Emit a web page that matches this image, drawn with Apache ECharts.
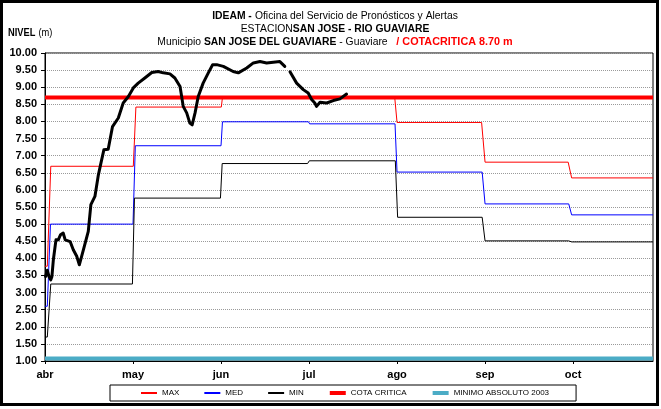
<!DOCTYPE html>
<html>
<head>
<meta charset="utf-8">
<script src="https://cdn.jsdelivr.net/npm/echarts@6/dist/echarts.min.js"></script>
<style>
  html, body { margin: 0; padding: 0; background: #fff; }
  #chart { width: 661px; height: 409px; }
</style>
</head>
<body>
<div id="chart"></div>
<script>
// x values are days counted from 1 April; each month tick sits 30.5 days apart
const monthLabels = ['abr', 'may', 'jun', 'jul', 'ago', 'sep', 'oct'];
const daysPerMonth = 30.5;
const lastDay = 210.7;

// observed daily level (m); null marks missing readings
const obsDays = [0.2, 0.8, 1.4, 2.0, 2.4, 2.9, 3.8, 4.6, 5.4, 6.3, 7.0, 8.7, 9.8, 11.0, 11.9, 13.3, 15.0, 15.9, 17.3,
  18.5, 19.4, 20.4, 21.9, 23.4, 25.4, 27.1, 28.9, 30.6, 32.3, 34.6, 37.0, 39.2, 41.0, 43.3, 45.0, 46.8, 47.9,
  49.1, 50.2, 51.0, 52.0, 53.1, 54.8, 56.6, 58.1, 59.5, 61.8, 65.2, 67.0, 69.9, 72.2, 74.5, 76.8, 79.1, 81.4,
  83.1, 84.0, 84.9, 87.2, 89.5, 91.2, 92.4, 93.5, 94.1, 95.3, 97.6, 99.9, 102.2, 104.5];
const obsLevels = [3.47, 3.65, 3.47, 3.37, 3.47, 3.96, 4.54, 4.54, 4.69, 4.74, 4.54, 4.49, 4.25, 4.06, 3.81, 4.25, 4.79, 5.57, 5.81,
  6.44, 6.79, 7.17, 7.19, 7.85, 8.10, 8.54, 8.73, 8.98, 9.12, 9.27, 9.43, 9.46, 9.42, 9.39, 9.27, 9.02, 8.44,
  8.25, 7.95, 7.90, 8.25, 8.73, 9.12, 9.42, 9.66, 9.66, 9.61, 9.46, 9.42, 9.56, 9.71, 9.75, 9.71, 9.73, 9.75,
  9.61, null, 9.45, 9.12, 8.93, 8.83, 8.64, 8.54, 8.44, 8.56, 8.54, 8.61, 8.66, 8.80];

// historical monthly maximum
const maxDays = [0, 0.8, 2.0, 30.6, 31.5, 61.1, 61.5, 121.2, 122.0, 151.3, 152.5, 181.3, 182.5, 210.7];
const maxLevels = [3.77, 3.77, 6.69, 6.69, 8.42, 8.42, 8.70, 8.70, 7.97, 7.97, 6.81, 6.81, 6.35, 6.35];

// historical monthly mean
const medDays = [0, 0.8, 1.9, 30.5, 31.3, 61.0, 61.5, 91.3, 91.7, 121.3, 122.0, 151.5, 152.5, 181.5, 182.5, 210.7];
const medLevels = [2.60, 2.60, 5.00, 5.00, 7.29, 7.29, 7.99, 7.99, 7.93, 7.93, 6.52, 6.52, 5.59, 5.59, 5.27, 5.27];

// historical monthly minimum
const minDays = [0, 0.8, 2.0, 30.3, 31.0, 60.8, 61.4, 91.0, 91.6, 121.4, 122.2, 151.5, 152.5, 181.5, 182.5, 210.7];
const minLevels = [1.70, 1.70, 3.25, 3.25, 5.76, 5.76, 6.77, 6.77, 6.85, 6.85, 5.20, 5.20, 4.51, 4.51, 4.48, 4.48];

const cotaCritica = 8.70;
const minimoAbsoluto = 1.07;

const sans = '"Liberation Sans", Arial, sans-serif';

function pairs(xs, ys) {
  return xs.map((x, i) => [x, ys[i] === null ? '-' : ys[i]]);
}

// condensed header text: a horizontally squeezed text element
function headerLine(y, text, rich) {
  return {
    type: 'text', x: 335, y: y, scaleX: 0.94, scaleY: 1,
    style: { text: text, align: 'center', verticalAlign: 'middle', rich: rich }
  };
}

const headerRich = {
  b: { font: 'bold 11px ' + sans, fill: '#000' },
  n: { font: '11px ' + sans, fill: '#000' },
  r: { font: 'bold 11.5px ' + sans, fill: '#ff0000' }
};

const chart = echarts.init(document.getElementById('chart'), null, { renderer: 'canvas' });

chart.setOption({
  animation: false,
  backgroundColor: '#fff',
  grid: {
    left: 45, right: 8, top: 53, bottom: 48,
    show: true, borderColor: '#000', borderWidth: 1, backgroundColor: 'transparent'
  },
  xAxis: {
    type: 'value',
    min: 0, max: lastDay, interval: daysPerMonth,
    axisLine: { show: true, lineStyle: { color: '#000', width: 1 } },
    axisTick: { show: true, length: 3, lineStyle: { color: '#000' } },
    splitLine: { show: false },
    axisLabel: {
      showMaxLabel: false,
      color: '#000', fontFamily: sans, fontWeight: 'bold', fontSize: 11, margin: 8,
      formatter: v => {
        const i = Math.round(v / daysPerMonth);
        return Math.abs(v - i * daysPerMonth) < 0.01 && i < monthLabels.length ? monthLabels[i] : '';
      }
    }
  },
  yAxis: {
    type: 'value',
    min: 1, max: 10, interval: 0.5,
    axisLine: { show: true, lineStyle: { color: '#000', width: 1 } },
    axisTick: { show: true, length: 4, lineStyle: { color: '#000' } },
    splitLine: { show: true, lineStyle: { color: '#9a9a9a', type: [1, 1], width: 1 } },
    axisLabel: {
      color: '#000', fontFamily: sans, fontWeight: 'bold', fontSize: 11, margin: 8,
      formatter: v => v.toFixed(2)
    }
  },
  legend: {
    left: 110, top: 385,
    padding: [4, 27, 4, 30],
    borderColor: '#000', borderWidth: 1,
    itemWidth: 16, itemHeight: 9, itemGap: 24,
    itemStyle: { opacity: 0 },
    textStyle: { fontFamily: sans, fontSize: 8, color: '#000' },
    data: [
      { name: 'MAX' },
      { name: 'MED' },
      { name: 'MIN' },
      { name: 'COTA CRITICA', lineStyle: { width: 4 } },
      { name: 'MINIMO ABSOLUTO 2003', lineStyle: { width: 4 } }
    ]
  },
  graphic: [
    {
      type: 'rect', silent: true,
      shape: { x: 1.5, y: 1.5, width: 656, height: 403 },
      style: { fill: 'none', stroke: '#000', lineWidth: 3 }
    },
    headerLine(16, '{b|IDEAM -} {n|Oficina del Servicio de Pronósticos y Alertas}', headerRich),
    headerLine(29, '{n|ESTACION}{b|SAN JOSE - RIO GUAVIARE}', headerRich),
    headerLine(42, '{n|Municipio }{b|SAN JOSE DEL GUAVIARE}{n| - Guaviare  }{r| / COTACRITICA 8.70 m}', headerRich),
    {
      type: 'text', x: 8, y: 33, scaleX: 0.93,
      style: {
        text: '{b|NIVEL} {n|(m)}',
        align: 'left', verticalAlign: 'middle',
        rich: {
          b: { font: 'bold 10px ' + sans, fill: '#000' },
          n: { font: '10px ' + sans, fill: '#000' }
        }
      }
    }
  ],
  series: [
    {
      name: 'MINIMO ABSOLUTO 2003', type: 'line', symbol: 'none', z: 3,
      lineStyle: { color: '#4bacc6', width: 4 }, itemStyle: { color: '#4bacc6' },
      data: [[0, minimoAbsoluto], [lastDay, minimoAbsoluto]]
    },
    {
      name: 'MAX', type: 'line', symbol: 'none', z: 3,
      lineStyle: { color: '#ff0000', width: 1 }, itemStyle: { color: '#ff0000' },
      data: pairs(maxDays, maxLevels)
    },
    {
      name: 'MED', type: 'line', symbol: 'none', z: 3,
      lineStyle: { color: '#0000ff', width: 1 }, itemStyle: { color: '#0000ff' },
      data: pairs(medDays, medLevels)
    },
    {
      name: 'MIN', type: 'line', symbol: 'none', z: 3,
      lineStyle: { color: '#000', width: 1 }, itemStyle: { color: '#000' },
      data: pairs(minDays, minLevels)
    },
    {
      name: 'COTA CRITICA', type: 'line', symbol: 'none', z: 4,
      lineStyle: { color: '#ff0000', width: 4 }, itemStyle: { color: '#ff0000' },
      data: [[0, cotaCritica], [lastDay, cotaCritica]]
    },
    {
      name: 'NIVEL', type: 'line', symbol: 'none', z: 5, connectNulls: false,
      lineStyle: { color: '#000', width: 3, join: 'round', cap: 'round' }, itemStyle: { color: '#000' },
      data: pairs(obsDays, obsLevels)
    }
  ]
});
</script>
</body>
</html>
